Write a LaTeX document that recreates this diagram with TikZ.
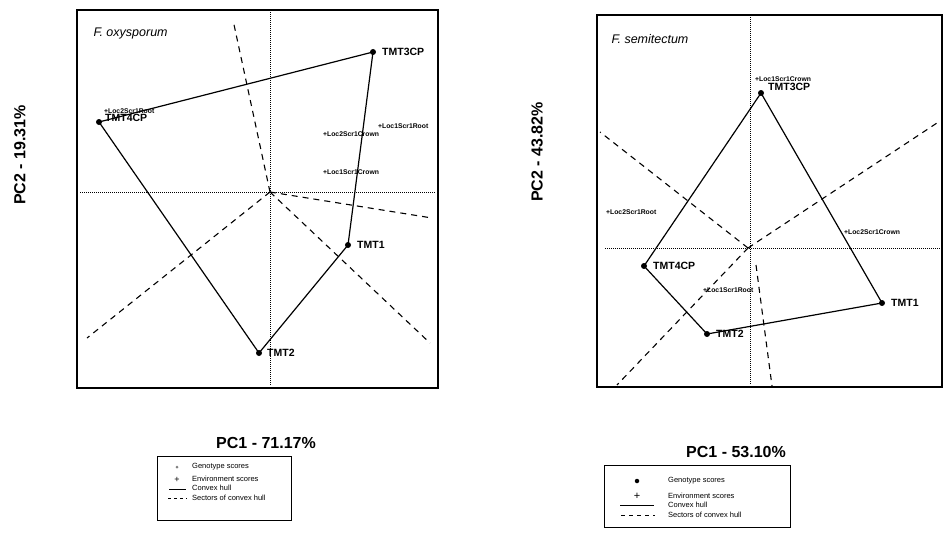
\documentclass[tikz,border=0pt]{standalone}
\usepackage{fontspec}
\setmainfont{Liberation Sans}
\begin{document}
\begin{tikzpicture}[x=1pt,y=-1pt,
    gdot/.style={circle, fill, inner sep=0pt, minimum size=6pt},
    glab/.style={font=\fontsize{10.5}{10.5}\selectfont\bfseries, anchor=west, inner sep=1pt},
    elab/.style={font=\fontsize{6.8}{6.8}\selectfont\bfseries, anchor=west, inner sep=0pt},
    hull/.style={line width=1.2pt},
    sector/.style={dash pattern=on 6pt off 5pt, line width=1.1pt},
    axisline/.style={dash pattern=on 1pt off 1pt, line width=0.7pt},
    frame/.style={line width=1.4pt},
    ttl/.style={font=\fontsize{12.5}{12.5}\selectfont\itshape, anchor=west},
    pclab/.style={font=\fontsize{16}{16}\selectfont\bfseries},
    legtext/.style={font=\fontsize{7.5}{7.5}\selectfont, anchor=west, inner sep=0pt}]
  \useasboundingbox (0,0) rectangle (944,535);

  % Pannello sinistro: F. oxysporum
  \draw[frame] (77,10) rectangle (438,388);
  \node[ttl] (ttlA) at (90,33) {F. oxysporum};
  \coordinate (oA) at (270,192);
  \draw[axisline] (80,192) -- (436,192);
  \draw[axisline] (270,12) -- (270,386);

  % Settori
  \coordinate (sA1) at (233,20);
  \coordinate (sA2) at (432,218);
  \coordinate (sA3) at (430,343);
  \coordinate (sA4) at (87,338);
  \draw[sector] (oA) -- (sA1);
  \draw[sector] (oA) -- (sA2);
  \draw[sector] (oA) -- (sA3);
  \draw[sector] (oA) -- (sA4);

  % Genotipi e inviluppo
  \node[gdot] (a3) at (373,52) {};
  \node[gdot] (a4) at (99,122) {};
  \node[gdot] (a1) at (348,245) {};
  \node[gdot] (a2) at (259,353) {};
  \draw[hull] (a4.center) -- (a3.center) -- (a1.center) -- (a2.center) -- (a4.center);
  \node[glab] (a3l) at ([xshift=8pt]a3.center) {TMT3CP};
  \node[glab] (a4l) at ([xshift=5pt,yshift=4pt]a4.center) {TMT4CP};
  \node[glab] (a1l) at ([xshift=8pt]a1.center) {TMT1};
  \node[glab] (a2l) at ([xshift=7pt]a2.center) {TMT2};

  % Ambienti
  \node[elab] (eA1) at (104,111) {+Loc2Scr1Root};
  \node[elab] (eA2) at (378,126) {+Loc1Scr1Root};
  \node[elab] (eA3) at (323,134) {+Loc2Scr1Crown};
  \node[elab] (eA4) at (323,172) {+Loc1Scr1Crown};

  % Pannello destro: F. semitectum
  \draw[frame] (943,15) -- (597,15) -- (597,387) -- (943,387);
  \draw[frame] (942,15) -- (942,387);
  \node[ttl] (ttlB) at (608,39) {F. semitectum};
  \coordinate (oB) at (748,248);
  \draw[axisline] (605,248) -- (940,248);
  \draw[axisline] (750,17) -- (750,385);

  % Settori
  \coordinate (sB1) at (600,132);
  \coordinate (sB2) at (940,121);
  \coordinate (sB3) at (617,385);
  \coordinate (sB4) at (772,386);
  \coordinate (sB4a) at (756,265);
  \draw[sector] (oB) -- (sB1);
  \draw[sector] (oB) -- (sB2);
  \draw[sector] (oB) -- (sB3);
  \draw[sector] (sB4a) -- (sB4);

  % Genotipi e inviluppo
  \node[gdot] (b3) at (761,93) {};
  \node[gdot] (b4) at (644,266) {};
  \node[gdot] (b2) at (707,334) {};
  \node[gdot] (b1) at (882,303) {};
  \draw[hull] (b3.center) -- (b1.center) -- (b2.center) -- (b4.center) -- (b3.center);
  \node[glab] (b3l) at ([xshift=6pt,yshift=6pt]b3.center) {TMT3CP};
  \node[glab] (b4l) at ([xshift=8pt]b4.center) {TMT4CP};
  \node[glab] (b1l) at ([xshift=8pt]b1.center) {TMT1};
  \node[glab] (b2l) at ([xshift=8pt]b2.center) {TMT2};

  % Ambienti
  \node[elab] (eB1) at (755,79) {+Loc1Scr1Crown};
  \node[elab] (eB2) at (606,212) {+Loc2Scr1Root};
  \node[elab] (eB3) at (844,232) {+Loc2Scr1Crown};
  \node[elab] (eB4) at (703,290) {+Loc1Scr1Root};

  % Assi
  \node[pclab, rotate=90] (pc2A) at (20,155) {PC2 - 19.31\%};
  \node[pclab, rotate=90] (pc2B) at (537,152) {PC2 - 43.82\%};
  \node[pclab] (pc1A) at (266,443) {PC1 - 71.17\%};
  \node[pclab] (pc1B) at (736,452) {PC1 - 53.10\%};

  % Legenda sinistra
  \draw[line width=0.8pt] (157,456) rectangle (291,520);
  \node[circle, fill=gray, inner sep=0pt, minimum size=3pt] (kA1) at (177,467) {};
  \node[font=\fontsize{9}{9}\selectfont, inner sep=0pt] (kA2) at (177,480) {+};
  \coordinate (kA3a) at (169,489);
  \coordinate (kA3b) at (186,489);
  \coordinate (kA4a) at (168,498);
  \coordinate (kA4b) at (187,498);
  \draw[line width=0.6pt] (kA3a) -- (kA3b);
  \draw[line width=0.6pt, dash pattern=on 3pt off 3pt] (kA4a) -- (kA4b);
  \node[legtext] (tA1) at (192,467) {Genotype scores};
  \node[legtext] (tA2) at (192,479) {Environment scores};
  \node[legtext] (tA3) at (192,488) {Convex hull};
  \node[legtext] (tA4) at (192,498) {Sectors of convex hull};

  % Legenda destra
  \draw[line width=0.8pt] (604,465) rectangle (790,527);
  \node[circle, fill, inner sep=0pt, minimum size=4.5pt] (kB1) at (637,481) {};
  \node[font=\fontsize{11}{11}\selectfont, inner sep=0pt] (kB2) at (637,496) {+};
  \coordinate (kB3a) at (620,505);
  \coordinate (kB3b) at (654,505);
  \coordinate (kB4a) at (621,515);
  \coordinate (kB4b) at (655,515);
  \draw[line width=0.7pt] (kB3a) -- (kB3b);
  \draw[line width=0.7pt, dash pattern=on 4pt off 4pt] (kB4a) -- (kB4b);
  \node[legtext] (tB1) at (668,481) {Genotype scores};
  \node[legtext] (tB2) at (668,496) {Environment scores};
  \node[legtext] (tB3) at (668,505) {Convex hull};
  \node[legtext] (tB4) at (668,515) {Sectors of convex hull};
\end{tikzpicture}
\end{document}
